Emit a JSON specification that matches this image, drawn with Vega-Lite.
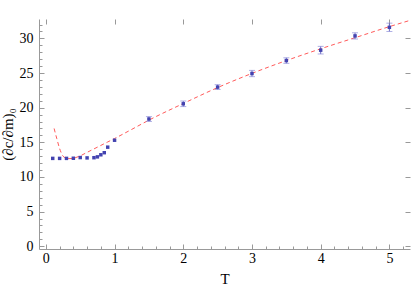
{
  "$schema": "https://vega.github.io/schema/vega-lite/v6.json",
  "width": 371,
  "height": 230,
  "autosize": "none",
  "padding": {"left": 39, "top": 19, "right": 2, "bottom": 40},
  "background": "white",
  "config": {
    "view": {"stroke": null},
    "font": "Liberation Serif",
    "axis": {
      "labelFont": "Liberation Serif",
      "titleFont": "Liberation Serif",
      "labelFontSize": 14,
      "titleFontSize": 15,
      "labelColor": "black",
      "titleColor": "black",
      "titleFontWeight": "normal",
      "domainColor": "#999999",
      "tickColor": "#999999",
      "grid": false
    }
  },
  "datasets": {
    "pts": [
      {"T": 0.1, "v": 12.68, "e": 0.05},
      {"T": 0.2, "v": 12.68, "e": 0.05},
      {"T": 0.3, "v": 12.68, "e": 0.05},
      {"T": 0.4, "v": 12.7, "e": 0.05},
      {"T": 0.5, "v": 12.8, "e": 0.05},
      {"T": 0.6, "v": 12.75, "e": 0.05},
      {"T": 0.7, "v": 12.78, "e": 0.05},
      {"T": 0.75, "v": 12.9, "e": 0.05},
      {"T": 0.8, "v": 13.2, "e": 0.05},
      {"T": 0.85, "v": 13.5, "e": 0.05},
      {"T": 0.9, "v": 14.3, "e": 0.05},
      {"T": 1.0, "v": 15.3, "e": 0.1},
      {"T": 1.5, "v": 18.36, "e": 0.35},
      {"T": 2.0, "v": 20.56, "e": 0.4},
      {"T": 2.5, "v": 22.97, "e": 0.35},
      {"T": 3.0, "v": 24.93, "e": 0.45},
      {"T": 3.5, "v": 26.8, "e": 0.4},
      {"T": 4.0, "v": 28.3, "e": 0.55},
      {"T": 4.5, "v": 30.36, "e": 0.45},
      {"T": 5.0, "v": 31.6, "e": 0.6}
    ],
    "fit": [
      {"T": 0.12, "v": 17.0},
      {"T": 0.16, "v": 15.5},
      {"T": 0.2, "v": 14.1},
      {"T": 0.25, "v": 13.0},
      {"T": 0.3, "v": 12.7},
      {"T": 0.35, "v": 12.65},
      {"T": 0.4, "v": 12.7},
      {"T": 0.5, "v": 13.05},
      {"T": 0.6, "v": 13.55},
      {"T": 0.7, "v": 14.05},
      {"T": 0.8, "v": 14.55},
      {"T": 0.9, "v": 15.05},
      {"T": 1.0, "v": 15.55},
      {"T": 1.2, "v": 16.6},
      {"T": 1.5, "v": 18.2},
      {"T": 2.0, "v": 20.6},
      {"T": 2.5, "v": 22.9},
      {"T": 3.0, "v": 24.95},
      {"T": 3.5, "v": 26.8},
      {"T": 4.0, "v": 28.5},
      {"T": 4.5, "v": 30.1},
      {"T": 5.0, "v": 31.7},
      {"T": 5.3, "v": 32.6}
    ]
  },
  "resolve": {"axis": {"x": "independent", "y": "independent"}},
  "layer": [
    {
      "data": {"name": "fit"},
      "mark": {"type": "line", "color": "#ff5a5a", "strokeDash": [4, 3], "strokeWidth": 1, "interpolate": "monotone", "clip": true},
      "encoding": {
        "x": {"field": "T", "type": "quantitative", "scale": {"domain": [-0.1, 5.3], "nice": false, "zero": false},
          "axis": {"orient": "bottom", "title": "T", "values": [0, 1, 2, 3, 4, 5], "tickSize": -5, "labelPadding": 7, "titleBaseline": "top", "titleY": 22, "labelFont": "Liberation Serif", "titleFont": "Liberation Serif"}},
        "y": {"field": "v", "type": "quantitative", "scale": {"domain": [-0.4, 32.8], "nice": false, "zero": false},
          "axis": {"orient": "left", "title": "(∂c/∂m)₀", "values": [0, 5, 10, 15, 20, 25, 30], "tickSize": -5, "labelPadding": 11, "titleX": -24, "labelFont": "Liberation Serif", "titleFont": "Liberation Serif"}}
      }
    },
    {
      "data": {"name": "pts"},
      "transform": [{"calculate": "datum.v - datum.e", "as": "lo"}, {"calculate": "datum.v + datum.e", "as": "hi"}],
      "mark": {"type": "rule", "color": "#4545b5", "strokeWidth": 1, "opacity": 0.8},
      "encoding": {
        "x": {"field": "T", "type": "quantitative",
          "axis": {"orient": "bottom", "title": null, "labels": false, "domain": false, "values": [0.2,0.4,0.6,0.8,1.2,1.4,1.6,1.8,2.2,2.4,2.6,2.8,3.2,3.4,3.6,3.8,4.2,4.4,4.6,4.8,5.2], "tickSize": -3}},
        "y": {"field": "lo", "type": "quantitative",
          "axis": {"orient": "left", "title": null, "labels": false, "domain": false, "values": [1,2,3,4,6,7,8,9,11,12,13,14,16,17,18,19,21,22,23,24,26,27,28,29,31,32], "tickSize": -3}},
        "y2": {"field": "hi"}
      }
    },
    {
      "data": {"name": "pts"},
      "transform": [{"calculate": "datum.v - datum.e", "as": "lo"}, {"calculate": "datum.v + datum.e", "as": "hi"}, {"filter": "datum.T > 1.2"}],
      "layer": [
        {
          "mark": {"type": "tick", "orient": "horizontal", "color": "#8c8cd8", "size": 6, "thickness": 1},
          "encoding": {
            "x": {"field": "T", "type": "quantitative",
              "axis": {"orient": "top", "title": null, "labels": false, "values": [0, 1, 2, 3, 4, 5], "tickSize": -5}},
            "y": {"field": "lo", "type": "quantitative",
              "axis": {"orient": "right", "title": null, "labels": false, "values": [0, 5, 10, 15, 20, 25, 30], "tickSize": -5}}
          }
        },
        {
          "mark": {"type": "tick", "orient": "horizontal", "color": "#8c8cd8", "size": 6, "thickness": 1},
          "encoding": {
            "x": {"field": "T", "type": "quantitative",
              "axis": {"orient": "top", "title": null, "labels": false, "domain": false, "values": [0.2,0.4,0.6,0.8,1.2,1.4,1.6,1.8,2.2,2.4,2.6,2.8,3.2,3.4,3.6,3.8,4.2,4.4,4.6,4.8,5.2], "tickSize": -3}},
            "y": {"field": "hi", "type": "quantitative",
              "axis": {"orient": "right", "title": null, "labels": false, "domain": false, "values": [1,2,3,4,6,7,8,9,11,12,13,14,16,17,18,19,21,22,23,24,26,27,28,29,31,32], "tickSize": -3}}
          }
        }
      ]
    },
    {
      "data": {"name": "pts"},
      "mark": {"type": "point", "shape": "square", "filled": true, "size": 12, "color": "#4343b0", "opacity": 1},
      "encoding": {
        "x": {"field": "T", "type": "quantitative", "axis": null},
        "y": {"field": "v", "type": "quantitative", "axis": null}
      }
    }
  ]
}
